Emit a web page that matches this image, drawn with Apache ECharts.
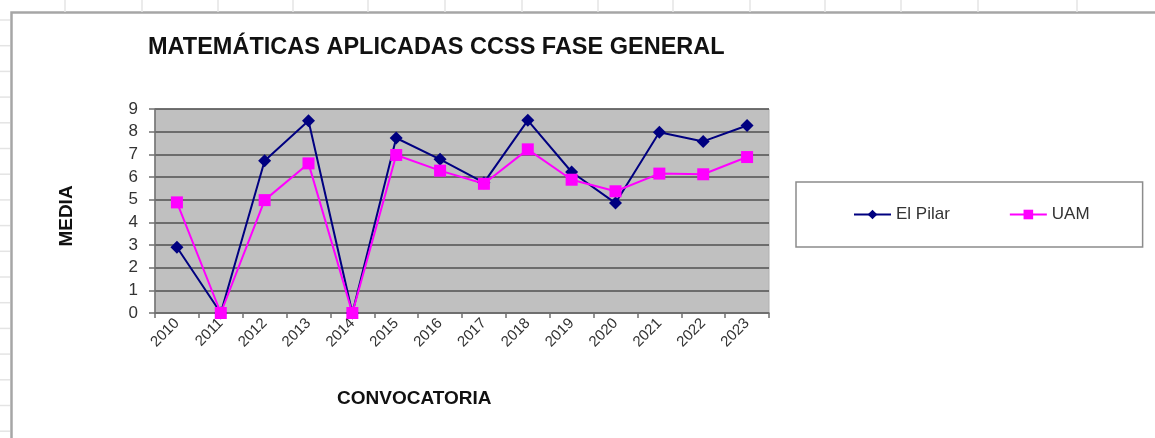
<!DOCTYPE html>
<html>
<head>
<meta charset="utf-8">
<title>Matemáticas Aplicadas CCSS</title>
<script src="https://cdn.jsdelivr.net/npm/echarts@6/dist/echarts.min.js"></script>
<style>
  html, body { margin: 0; padding: 0; background: #fff; }
  #chart { width: 1155px; height: 438px; }
</style>
</head>
<body>
<div id="chart"></div>
<script>
// datos de la hoja
const years = ['2010', '2011', '2012', '2013', '2014', '2015', '2016',
               '2017', '2018', '2019', '2020', '2021', '2022', '2023'];
const elPilar = [2.9, 0, 6.72, 8.48, 0, 7.72, 6.78, 5.75, 8.5, 6.22, 4.85, 7.97, 7.57, 8.27];
const uam = [4.88, 0, 4.98, 6.6, 0, 6.97, 6.28, 5.7, 7.22, 5.88, 5.37, 6.15, 6.12, 6.88];
const yTicks = [0, 9, 1]; // min, max, intervalo

const font = 'Liberation Sans, Arial, sans-serif';

// lineas de la hoja de calculo detras del grafico (solo decoracion)
const colX = [65, 142, 218, 293, 368, 445, 522, 598, 673, 750, 825, 901, 978, 1077];
const sheet = [];
colX.forEach(x => sheet.push({
    type: 'line', silent: true,
    shape: { x1: x, y1: 0, x2: x, y2: 12 },
    style: { stroke: '#e4e4e4', lineWidth: 1.5 }
}));
for (let y = 20; y < 438; y += 25.7) {
    sheet.push({
        type: 'line', silent: true,
        shape: { x1: 0, y1: y, x2: 10, y2: y },
        style: { stroke: '#e4e4e4', lineWidth: 1.5 }
    });
}
// borde del area del grafico
sheet.push({
    type: 'rect', silent: true, z: -1,
    shape: { x: 11.5, y: 12.5, width: 1200, height: 500 },
    style: { fill: '#fff', stroke: '#a6a6a6', lineWidth: 2.5 }
});
// titulo del eje Y
sheet.push({
    type: 'text', silent: true,
    x: 67, y: 216,
    rotation: Math.PI / 2,
    style: {
        text: 'MEDIA',
        fontFamily: font, fontSize: 19, fontWeight: 'bold', fill: '#111',
        align: 'center', verticalAlign: 'middle'
    }
});

let myChart = echarts.init(document.getElementById('chart'), null, { renderer: 'canvas' });

myChart.setOption({
    animation: false,
    textStyle: { fontFamily: font },
    graphic: sheet,
    title: [
        {
            text: 'MATEMÁTICAS APLICADAS CCSS FASE GENERAL',
            left: 148,
            top: 36,
            padding: 0,
            textStyle: { fontFamily: font, fontSize: 23.5, fontWeight: 'bold', color: '#111' }
        },
        {
            text: 'CONVOCATORIA',
            left: 337,
            top: 389,
            padding: 0,
            textStyle: { fontFamily: font, fontSize: 19, fontWeight: 'bold', color: '#111' }
        }
    ],
    legend: {
        left: 796,
        top: 182,
        orient: 'horizontal',
        padding: [24, 53, 24, 57],
        itemGap: 59,
        itemWidth: 37,
        itemHeight: 12,
        backgroundColor: '#fff',
        borderColor: '#8c8c8c',
        borderWidth: 1.5,
        borderRadius: 0,
        textStyle: { fontFamily: font, fontSize: 17, color: '#333' },
        data: ['El Pilar', 'UAM']
    },
    grid: {
        left: 155,
        right: 386,
        top: 109,
        bottom: 125,
        show: true,
        backgroundColor: '#c0c0c0',
        borderColor: '#b0b0b0',
        borderWidth: 1
    },
    xAxis: {
        type: 'category',
        data: years,
        boundaryGap: true,
        axisLine: { lineStyle: { color: '#707070', width: 1.5 } },
        axisTick: { show: true, length: 5, lineStyle: { color: '#707070', width: 1.5 } },
        axisLabel: {
            interval: 0,
            rotate: 45,
            margin: 8,
            fontSize: 15,
            color: '#333'
        },
        splitLine: { show: false }
    },
    yAxis: {
        type: 'value',
        min: yTicks[0],
        max: yTicks[1],
        interval: yTicks[2],
        axisLine: { show: true, lineStyle: { color: '#707070', width: 1.5 } },
        axisTick: { show: true, length: 6, lineStyle: { color: '#707070', width: 1.5 } },
        axisLabel: { margin: 17, fontSize: 17, color: '#333' },
        splitLine: { show: true, lineStyle: { color: '#505050', width: 1.5 } }
    },
    series: [
        {
            name: 'El Pilar',
            type: 'line',
            data: elPilar,
            symbol: 'diamond',
            symbolSize: 13,
            lineStyle: { color: '#000080', width: 2 },
            itemStyle: { color: '#000080' }
        },
        {
            name: 'UAM',
            type: 'line',
            data: uam,
            symbol: 'rect',
            symbolSize: 12,
            lineStyle: { color: '#ff00ff', width: 2 },
            itemStyle: { color: '#ff00ff' }
        }
    ]
});
</script>
</body>
</html>
